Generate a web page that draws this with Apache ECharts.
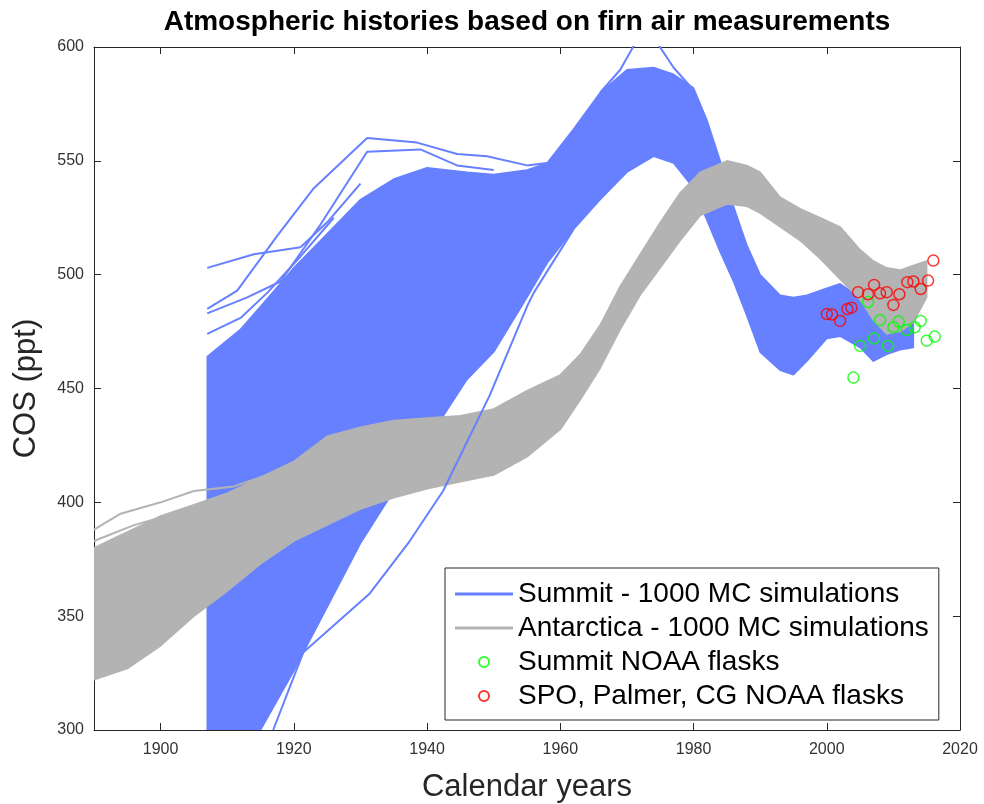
<!DOCTYPE html>
<html>
<head>
<meta charset="utf-8">
<title>Atmospheric histories based on firn air measurements</title>
<script src="https://cdn.jsdelivr.net/npm/echarts@6/dist/echarts.min.js"></script>
<style>
	html, body {
		margin: 0;
		padding: 0;
		background: #fff;
	}
	#main {
		width: 984px;
		height: 804px;
	}
</style>
</head>
<body>
<div id="main"></div>
<script>
	// Summit ensemble: envelope of the dense part of the 1000 runs
	var summitYears = [1907, 1912, 1915, 1920, 1925, 1930, 1935, 1940, 1946, 1950, 1955, 1958, 1962, 1966, 1970, 1974, 1977, 1980, 1982, 1984, 1986, 1988, 1990, 1993, 1995, 1997, 2000, 2002, 2005, 2007, 2009, 2011, 2013];
	var summitUpper = [464, 476, 486, 503, 518, 533, 542, 547, 545, 544, 546, 549, 564, 580, 590, 591, 588, 582, 568, 550, 530, 513, 500, 491, 490, 491, 494, 496, 490, 487, 485, 484, 480];
	var summitLower = [300, 300, 300, 326, 354, 382, 405, 427, 454, 466, 490, 505, 520, 533, 545, 552, 549, 538, 524, 510, 497, 482, 466, 458, 456, 462, 472, 473, 468, 462, 465, 467, 468];

	// single Summit runs that stick out of the envelope
	var summitRun1 = [[1907, 503], [1914, 509], [1921, 512], [1925, 523], [1930, 540]];
	var summitRun2 = [[1907, 485], [1911.5, 493], [1917.5, 517], [1923, 538], [1931, 560], [1938.5, 558], [1944.5, 553], [1949, 552], [1955, 548], [1958, 549]];
	var summitRun3 = [[1907, 483], [1913, 490], [1918, 497], [1924, 522], [1931, 554], [1939, 555], [1944.5, 548], [1950, 546]];
	var summitRun4 = [[1907, 474], [1912, 481], [1916, 492], [1921, 508], [1926, 525]];
	var summitRun5 = [[1966, 580], [1969, 590], [1971.5, 603], [1974.5, 602], [1977, 591], [1980, 581]];
	var summitRun6 = [[1916.9, 300], [1921.4, 334], [1931.4, 360], [1937.4, 383], [1942.4, 405], [1949.4, 447], [1955, 486], [1956, 492], [1962, 520]];

	// Antarctica ensemble envelope
	var antYears = [1890, 1895, 1900, 1905, 1910, 1915, 1920, 1925, 1930, 1935, 1940, 1945, 1950, 1955, 1960, 1963, 1966, 1969, 1972, 1975, 1978, 1981, 1985, 1988, 1990, 1993, 1996, 1999, 2002, 2005, 2007, 2009, 2011, 2013, 2015];
	var antUpper = [380, 387, 394, 399, 404, 411, 418, 429, 433, 436, 437, 438, 441, 449, 456, 465, 478, 495, 509, 523, 536, 545, 550, 548, 545, 534, 529, 525, 521, 511, 506, 503, 502, 504, 506];
	var antLower = [322, 327, 337, 350, 361, 373, 383, 390, 397, 402, 406, 409, 412, 420, 432, 445, 459, 476, 491, 503, 515, 526, 531, 530, 527, 521, 515, 507, 498, 489, 480, 474, 475, 479, 490];

	var antRun1 = [[1890, 388], [1894, 395], [1900, 400], [1905, 405], [1911, 407], [1915, 411]];
	var antRun2 = [[1890, 383], [1896, 390], [1902, 395], [1906, 399]];

	// NOAA flask measurements
	var summitFlasks = [[2004.0, 454.8], [2005.0, 468.7], [2006.2, 488.0], [2007.1, 472.0], [2008.0, 480.0], [2009.2, 468.7], [2010.0, 476.9], [2010.8, 479.4], [2012.0, 475.7], [2013.2, 476.9], [2014.1, 479.7], [2015.0, 471.0], [2016.2, 472.8]];
	var southFlasks = [[2000.0, 482.7], [2000.8, 482.5], [2002.0, 479.7], [2003.1, 484.9], [2003.7, 485.5], [2004.7, 492.3], [2006.2, 491.4], [2007.1, 495.5], [2008.0, 491.8], [2009.0, 492.3], [2010.0, 486.7], [2010.9, 491.4], [2012.1, 496.7], [2013.0, 497.0], [2014.1, 493.7], [2015.2, 497.4], [2016.0, 506.2]];

	var xTicks = [1900, 1920, 1940, 1960, 1980, 2000, 2020];

	var FONT = 'Liberation Sans, Arial, Helvetica, sans-serif';
	var BLUE = '#6680ff';
	var GRAY = '#b3b3b3';
	var AXIS = '#262626';

	var SUMMIT = 'Summit - 1000 MC simulations';
	var ANT = 'Antarctica - 1000 MC simulations';
	var SUMMIT_F = 'Summit NOAA flasks';
	var SOUTH_F = 'SPO, Palmer, CG NOAA flasks';

	// envelope of the runs, filled between the lower and upper curve
	function band(id, years, lower, upper, color){
		return {
			name: id,
			type: 'custom',
			clip: true,
			silent: true,
			data: [[years[0], lower[0]]],
			encode: {x: 0, y: 1},
			renderItem: function (params, api){
				var pts = [];
				for (var i = 0; i < years.length; i++) {
					pts.push(api.coord([years[i], upper[i]]));
				}
				for (var j = years.length - 1; j >= 0; j--) {
					pts.push(api.coord([years[j], lower[j]]));
				}
				return {
					type: 'polygon',
					shape: {points: pts},
					style: {fill: color, stroke: color, lineWidth: 1.5, lineJoin: 'round'}
				};
			}
		};
	}

	function run(name, data, color){
		return {
			name: name,
			type: 'line',
			symbol: 'none',
			data: data,
			lineStyle: {color: color, width: 2},
			itemStyle: {color: color}
		};
	}

	function flasks(name, data, color){
		return {
			name: name,
			type: 'scatter',
			symbol: 'circle',
			symbolSize: 11,
			data: data,
			itemStyle: {color: 'rgba(255,255,255,0)', borderColor: color, borderWidth: 1.5}
		};
	}

	var series = [].concat(
		[run(SUMMIT, summitRun1, BLUE)],
		[band('summit band', summitYears, summitLower, summitUpper, BLUE)],
		[summitRun2, summitRun3, summitRun4, summitRun5, summitRun6].map(function (d){ return run(SUMMIT, d, BLUE); }),
		[run(ANT, antRun1, GRAY)],
		[band('antarctica band', antYears, antLower, antUpper, GRAY)],
		[run(ANT, antRun2, GRAY)],
		[flasks(SUMMIT_F, summitFlasks, '#00ff00'), flasks(SOUTH_F, southFlasks, '#ff0000')]
	);

	var xBase = {
		type: 'value',
		min: 1890,
		max: 2020,
		splitLine: {show: false},
		axisLine: {show: true, lineStyle: {color: AXIS, width: 1}},
		axisTick: {show: true, inside: true, length: 7, customValues: xTicks, lineStyle: {color: AXIS}}
	};
	var yBase = {
		type: 'value',
		min: 300,
		max: 600,
		interval: 50,
		splitLine: {show: false},
		axisLine: {show: true, lineStyle: {color: AXIS, width: 1}},
		axisTick: {show: true, inside: true, length: 7, lineStyle: {color: AXIS}}
	};

	var lineIcon = 'path://M0,0H58V3H0Z';

	var chart = echarts.init(document.getElementById('main'));
	var option = {
		animation: false,
		backgroundColor: '#fff',
		title: {
			text: 'Atmospheric histories based on firn air measurements',
			left: 527,
			top: 8,
			textAlign: 'center',
			padding: 0,
			textStyle: {fontFamily: FONT, fontSize: 28, fontWeight: 'bold', color: '#000'}
		},
		grid: {left: 94, right: 24, top: 47, bottom: 74, outerBoundsMode: 'none', containLabel: false},
		legend: {
			orient: 'vertical',
			left: 445,
			top: 568,
			data: [
				{name: SUMMIT, icon: lineIcon},
				{name: ANT, icon: lineIcon},
				{name: SUMMIT_F},
				{name: SOUTH_F}
			],
			itemWidth: 58,
			itemHeight: 10,
			itemGap: 4,
			itemTextGap: 5,
			padding: [11, 10, 9, 10],
			borderColor: AXIS,
			borderWidth: 1,
			backgroundColor: '#fff',
			selectedMode: false,
			textStyle: {fontFamily: FONT, fontSize: 28, lineHeight: 30, color: '#000'}
		},
		xAxis: [
			Object.assign({}, xBase, {
				position: 'bottom',
				name: 'Calendar years',
				nameLocation: 'middle',
				nameGap: 42,
				nameTextStyle: {fontFamily: FONT, fontSize: 31, color: AXIS},
				axisLabel: {
					show: true, customValues: xTicks, margin: 12,
					fontFamily: FONT, fontSize: 16, color: '#333',
					formatter: function (v){ return String(v); }
				}
			}),
			Object.assign({}, xBase, {position: 'top', axisLabel: {show: false}})
		],
		yAxis: [
			Object.assign({}, yBase, {
				position: 'left',
				name: 'COS (ppt)',
				nameLocation: 'middle',
				nameGap: 52,
				nameTextStyle: {fontFamily: FONT, fontSize: 31, color: AXIS},
				axisLabel: {show: true, margin: 10, fontFamily: FONT, fontSize: 16, color: '#333'}
			}),
			Object.assign({}, yBase, {position: 'right', axisLabel: {show: false}})
		],
		series: series
	};
	chart.setOption(option);
</script>
</body>
</html>
